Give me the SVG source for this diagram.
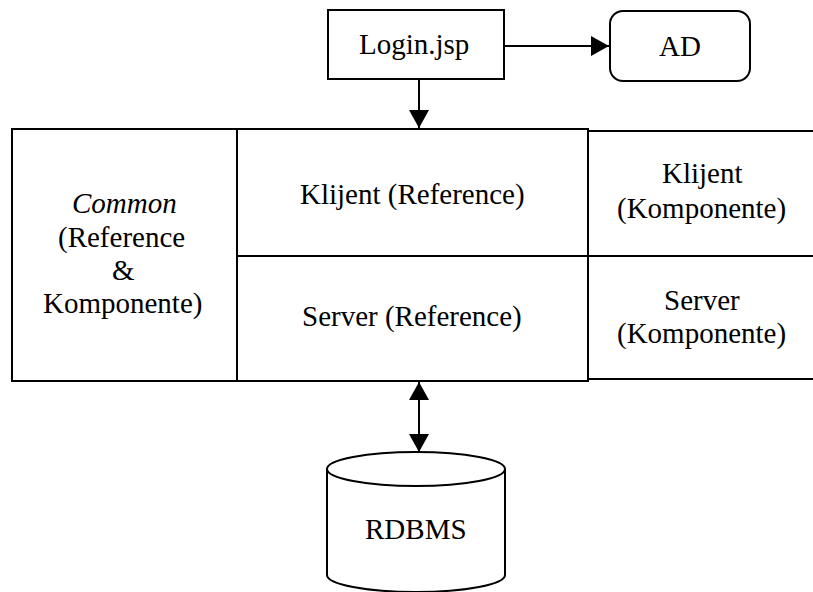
<svg xmlns="http://www.w3.org/2000/svg" width="813" height="592" viewBox="0 0 813 592">
<defs>
<marker id="ah" viewBox="0 0 18 20" refX="18" refY="10" markerWidth="18" markerHeight="20" markerUnits="userSpaceOnUse" orient="auto-start-reverse">
<path d="M0,0 L18,10 L0,20 z" fill="#000"/>
</marker>
</defs>
<rect width="813" height="592" fill="#fff"/>
<g fill="#fff" stroke="#000" stroke-width="2">
<g id="login"><rect x="328" y="10" width="176" height="69"/><text x="359" y="54" font-family="Liberation Serif, serif" font-size="29" fill="#000" stroke="none">Login.jsp</text></g>
<g id="ad"><rect x="610" y="11" width="140" height="70" rx="13"/><text x="659" y="56" font-family="Liberation Serif, serif" font-size="29" fill="#000" stroke="none">AD</text></g>
<g id="common"><rect x="12" y="129" width="225" height="252"/>
<text font-family="Liberation Serif, serif" font-size="29" fill="#000" stroke="none"><tspan x="72" y="213" font-style="italic">Common</tspan><tspan x="58" y="247">(Reference</tspan><tspan x="112" y="280">&amp;</tspan><tspan x="43" y="313">Komponente)</tspan></text></g>
<g id="klijent-ref"><rect x="237" y="129" width="351" height="127"/><text x="300" y="204" font-family="Liberation Serif, serif" font-size="29" fill="#000" stroke="none">Klijent (Reference)</text></g>
<g id="server-ref"><rect x="237" y="256" width="351" height="125"/><text x="302" y="326" font-family="Liberation Serif, serif" font-size="29" fill="#000" stroke="none">Server (Reference)</text></g>
<g id="klijent-komp"><path fill="none" d="M588,131 H813 M588,256 H813"/><text font-family="Liberation Serif, serif" font-size="29" fill="#000" stroke="none"><tspan x="662" y="183">Klijent</tspan><tspan x="617" y="218">(Komponente)</tspan></text></g>
<g id="server-komp"><path fill="none" d="M588,379 H813"/><text font-family="Liberation Serif, serif" font-size="29" fill="#000" stroke="none"><tspan x="664" y="310">Server</tspan><tspan x="617" y="343">(Komponente)</tspan></text></g>
<g id="rdbms">
<path d="M327,469 V575 A89,17 0 0 0 505,575 V469"/>
<ellipse cx="416" cy="469" rx="89" ry="17"/>
<text x="365" y="539" font-family="Liberation Serif, serif" font-size="29" fill="#000" stroke="none">RDBMS</text></g>
</g>
<g id="connectors" fill="none" stroke="#000" stroke-width="2">
<line x1="504" y1="46" x2="609" y2="46" marker-end="url(#ah)"/>
<line x1="419" y1="79" x2="419" y2="128" marker-end="url(#ah)"/>
<line x1="419" y1="382" x2="419" y2="452" marker-start="url(#ah)" marker-end="url(#ah)"/>
</g>
</svg>
